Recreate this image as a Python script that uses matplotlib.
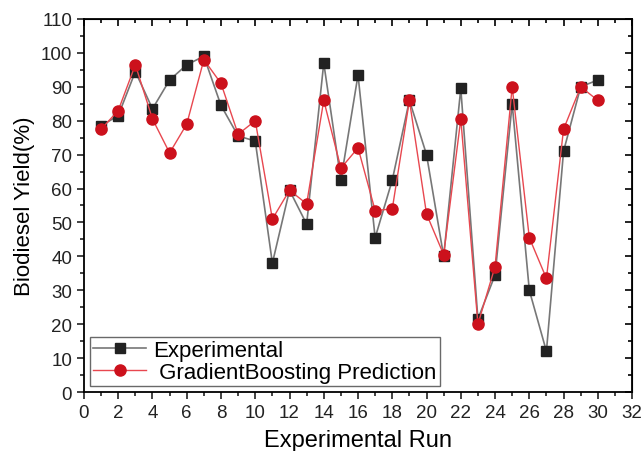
import matplotlib
matplotlib.use("Agg")
import matplotlib.pyplot as plt
from matplotlib.ticker import MultipleLocator

plt.rcParams['font.family'] = ['Liberation Sans', 'DejaVu Sans']

runs = list(range(1, 31))
experimental = [78.5, 81.5, 94.5, 83.5, 92, 96.5, 99, 84.5, 75.5, 74,
                38, 59.5, 49.5, 97, 62.5, 93.5, 45.5, 62.5, 86, 70,
                40, 89.5, 21.5, 34.5, 85, 30, 12, 71, 90, 92]
predicted = [77.5, 83, 96.5, 80.5, 70.5, 79, 98, 91, 76, 80,
             51, 59.5, 55.5, 86, 66, 72, 53.5, 54, 86, 52.5,
             40.5, 80.5, 20, 37, 90, 45.5, 33.5, 77.5, 90, 86]

fig = plt.figure(figsize=(6.43, 4.52), dpi=100)
ax = fig.add_axes([0.1306, 0.1305, 0.8524, 0.8253])

ax.plot(runs, experimental, color='#777777', linewidth=1.2, marker='s',
        markersize=7, markerfacecolor='#222222', markeredgecolor='#222222',
        label='Experimental')
ax.plot(runs, predicted, color='#e8474f', linewidth=1.0, marker='o',
        markersize=8, markerfacecolor='#cc111c', markeredgecolor='#cc111c',
        label=' GradientBoosting Prediction')

ax.set_xlim(0, 32)
ax.set_ylim(0, 110)
ax.xaxis.set_major_locator(MultipleLocator(2))
ax.xaxis.set_minor_locator(MultipleLocator(1))
ax.yaxis.set_major_locator(MultipleLocator(10))
ax.yaxis.set_minor_locator(MultipleLocator(5))
ax.tick_params(which='both', direction='out', labelsize=13.5, width=1.2,
               colors='#222222')
ax.tick_params(which='major', length=5)
ax.tick_params(which='minor', length=3)
for s in ax.spines.values():
    s.set_linewidth(1.3)

# inward ticks on top and right, Origin style
top = ax.secondary_xaxis('top')
top.xaxis.set_major_locator(MultipleLocator(2))
top.xaxis.set_minor_locator(MultipleLocator(1))
top.tick_params(which='both', direction='in', labeltop=False, width=1.2)
top.tick_params(which='major', length=5)
top.tick_params(which='minor', length=3)
right = ax.secondary_yaxis('right')
right.yaxis.set_major_locator(MultipleLocator(10))
right.yaxis.set_minor_locator(MultipleLocator(5))
right.tick_params(which='both', direction='in', labelright=False, width=1.2)
right.tick_params(which='major', length=5)
right.tick_params(which='minor', length=3)

ax.set_xlabel('Experimental Run', fontsize=17, labelpad=6)
ax.set_ylabel('Biodiesel Yield(%)', fontsize=16, labelpad=4)

leg = ax.legend(loc='lower left', fontsize=16, frameon=True, fancybox=False,
                edgecolor='#444444', handlelength=2.4, borderaxespad=0.25,
                labelspacing=0.05, borderpad=0.15, handletextpad=0.3)
leg.get_frame().set_linewidth(1.0)

fig.savefig('out.png', dpi=100)
